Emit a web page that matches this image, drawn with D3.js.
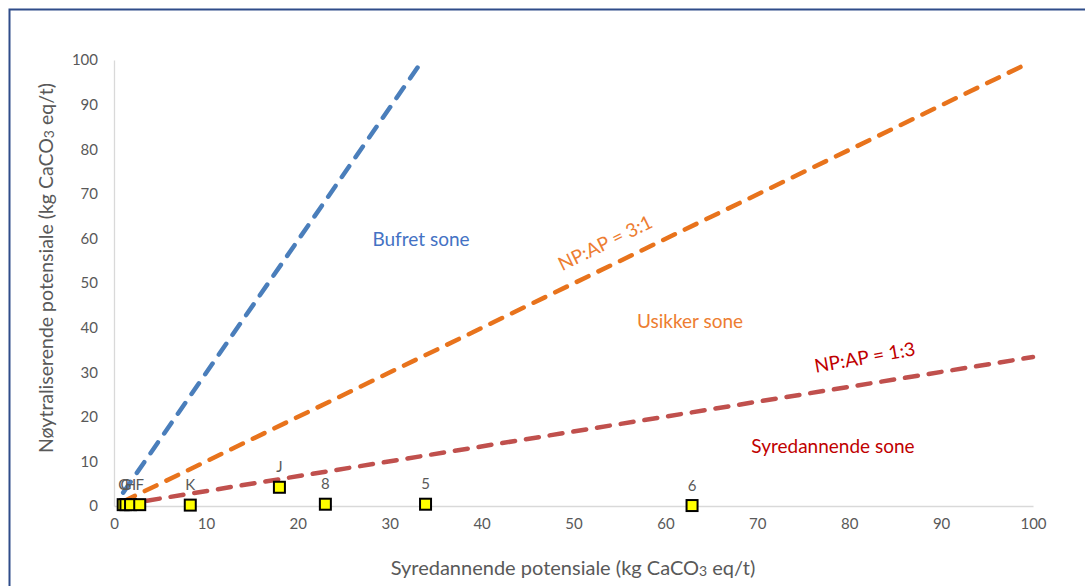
<!DOCTYPE html>
<html>
<head>
<meta charset="utf-8">
<script src="https://cdn.jsdelivr.net/npm/d3@7"></script>
<style>
  body { margin: 0; background: #fff; }
  text { font-family: Lato, "Open Sans", sans-serif; }
</style>
</head>
<body>
<svg id="chart"></svg>
<script>
// sample points (AP, NP)
const sampleNames = ["C", "G", "H", "F", "K", "J", "8", "5", "6"];
const apValues = [1.0, 1.3, 1.8, 2.8, 8.3, 18.0, 23.0, 33.9, 62.9];
const npValues = [0.3, 0.3, 0.3, 0.3, 0.2, 4.2, 0.4, 0.4, 0.1];

// ratio lines: start/end in data units
const lineNames = ["blue", "orange", "red"];
const lineStart = [[1, 3], [1, 1], [1, 0.33]];
const lineEnd = [[33.6, 100], [99.2, 99], [100, 33.4]];

const xTicks = [0, 10, 20, 30, 40, 50, 60, 70, 80, 90, 100];
const yTicks = [0, 10, 20, 30, 40, 50, 60, 70, 80, 90, 100];

const width = 1085;
const height = 586;
const margin = { top: 60, right: 52, bottom: 80, left: 114 };

const colors = { blue: "#4a7ebb", orange: "#e8731c", red: "#c0504d" };

const svg = d3.select("#chart")
  .attr("width", width)
  .attr("height", height);

svg.append("rect")
  .attr("x", 9.5).attr("y", 9.5)
  .attr("width", 1100).attr("height", 620)
  .attr("fill", "none")
  .attr("stroke", "#2f4d8a")
  .attr("stroke-width", 2);

const xScale = d3.scaleLinear()
  .domain([0, 100])
  .range([margin.left, width - margin.right]);

const yScale = d3.scaleLinear()
  .domain([0, 100])
  .range([height - margin.bottom, margin.top]);

const xAxis = d3.axisBottom(xScale).tickValues(xTicks).tickSize(0).tickPadding(12);
const yAxis = d3.axisLeft(yScale).tickValues(yTicks).tickSize(0).tickPadding(16);

const gx = svg.append("g")
  .attr("transform", `translate(0, ${yScale(0)})`)
  .call(xAxis);
const gy = svg.append("g")
  .attr("transform", `translate(${xScale(0)}, 0)`)
  .call(yAxis);

[gx, gy].forEach(g => {
  g.select(".domain").attr("stroke", "#d9d9d9").attr("stroke-width", 1.3);
  g.selectAll("text").attr("font-size", 15).attr("fill", "#595959")
    .attr("font-family", "Lato, sans-serif");
});

// axis titles
const xt = svg.append("text")
  .attr("x", 573).attr("y", 575)
  .attr("text-anchor", "middle")
  .attr("font-size", 20).attr("fill", "#595959");
xt.append("tspan").text("Syredannende potensiale (kg CaCO");
xt.append("tspan").attr("font-size", 14).attr("dy", 1).text("3");
xt.append("tspan").attr("dy", -1).text(" eq/t)");

const yt = svg.append("text")
  .attr("transform", "translate(53, 268) rotate(-90)")
  .attr("text-anchor", "middle")
  .attr("font-size", 19.5).attr("fill", "#595959");
yt.append("tspan").text("Nøytraliserende potensiale (kg CaCO");
yt.append("tspan").attr("font-size", 14).attr("dy", 1).text("3");
yt.append("tspan").attr("dy", -1).text(" eq/t)");

// dashed ratio lines
const line = d3.line().x(d => xScale(d[0])).y(d => yScale(d[1]));
lineNames.forEach((n, i) => {
  svg.append("path")
    .attr("d", line([lineStart[i], lineEnd[i]]))
    .attr("fill", "none")
    .attr("stroke", colors[n])
    .attr("stroke-width", 4.5)
    .attr("stroke-linecap", "round")
    .attr("stroke-dasharray", "13,11");
});

// zone labels
svg.append("text").attr("x", 421).attr("y", 246).attr("text-anchor", "middle")
  .attr("font-size", 19).attr("fill", "#4472c4").text("Bufret sone");
svg.append("text").attr("x", 690).attr("y", 328).attr("text-anchor", "middle")
  .attr("font-size", 19).attr("fill", "#ed7d31").text("Usikker sone");
svg.append("text").attr("x", 833).attr("y", 453).attr("text-anchor", "middle")
  .attr("font-size", 19).attr("fill", "#c00000").text("Syredannende sone");
svg.append("text").attr("transform", "translate(608, 249) rotate(-26)")
  .attr("text-anchor", "middle")
  .attr("font-size", 19).attr("fill", "#ed7d31").text("NP:AP = 3:1");
svg.append("text").attr("transform", "translate(866, 364) rotate(-10)")
  .attr("text-anchor", "middle")
  .attr("font-size", 19).attr("fill", "#c00000").text("NP:AP = 1:3");

// sample points
const pts = sampleNames.map((n, i) => ({ name: n, x: apValues[i], y: npValues[i] }));
const s = 11;
svg.selectAll("rect.pt")
  .data(pts)
  .enter()
  .append("rect")
  .attr("class", "pt")
  .attr("x", d => xScale(d.x) - s / 2)
  .attr("y", d => yScale(d.y) - s / 2)
  .attr("width", s).attr("height", s)
  .attr("fill", "#ffff00")
  .attr("stroke", "#000")
  .attr("stroke-width", 2);

svg.selectAll("text.lbl")
  .data(pts)
  .enter()
  .append("text")
  .attr("class", "lbl")
  .attr("x", d => xScale(d.x))
  .attr("y", d => yScale(d.y) - 15)
  .attr("text-anchor", "middle")
  .attr("font-size", 15)
  .attr("fill", "#595959")
  .text(d => d.name);
</script>
</body>
</html>
